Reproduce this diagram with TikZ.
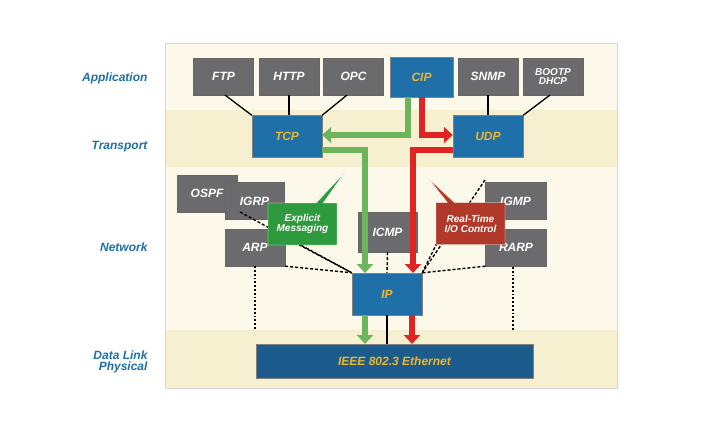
\documentclass[tikz,border=0pt]{standalone}
\usepackage{fontspec}
\setmainfont{Liberation Sans}
\usetikzlibrary{arrows.meta,shapes.callouts}
\definecolor{boxgrey}{HTML}{6B6B6E}
\definecolor{boxblue}{HTML}{1F70A8}
\definecolor{ethblue}{HTML}{1B5C8C}
\definecolor{txtgold}{HTML}{F2B526}
\definecolor{panel}{HTML}{FCF9EA}
\definecolor{band}{HTML}{F6F0D0}
\definecolor{layerblue}{HTML}{1E6FAA}
\definecolor{msggreen}{HTML}{2E9A3E}
\definecolor{iored}{HTML}{B0392A}
\definecolor{arrgreen}{HTML}{6DB55A}
\definecolor{arrred}{HTML}{E02424}
\tikzset{
  proto/.style={draw=black!60,fill=boxgrey,text=white,minimum width=60pt,minimum height=37pt,
    font=\large\bfseries\itshape,inner sep=1pt,align=center},
  core/.style={draw=black!50,fill=boxblue,text=txtgold,minimum width=70pt,minimum height=42pt,
    font=\large\bfseries\itshape},
  layer/.style={anchor=east,text=layerblue,font=\large\bfseries\itshape,align=right},
  flow/.style={line width=6pt,-{Triangle[length=9pt,width=16pt]}},
  netlink/.style={densely dashed,line width=1.4pt},
  note/.style={rectangle callout,draw=white,text=white,font=\bfseries\itshape,align=center,
    minimum width=69pt,minimum height=42pt,inner sep=1pt}
}
\begin{document}
\begin{tikzpicture}[x=1pt,y=-1pt]
\useasboundingbox (0,0) rectangle (713,421);
\fill[white] (0,0) rectangle (713,421);
% background bands
\fill[panel] (165,43) rectangle (617,388);
\fill[band] (165,110) rectangle (617,167);
\fill[band] (165,330) rectangle (617,388);
\draw[black!15] (165,43) rectangle (617,388);
% layers
\node[layer] at (151,78) {Application};
\node[layer] at (151,147) {Transport};
\node[layer] at (151,247) {Network};
\node[layer] at (151,362) {Data Link\\[-3pt]Physical};
% application
\node[proto] (ftp) at (223.5,76.5) {FTP};
\node[proto] (http) at (289,76.5) {HTTP};
\node[proto] (opc) at (353.5,76.5) {OPC};
\node[core,minimum width=63pt,minimum height=40pt] (cip) at (421.5,77) {CIP};
\node[proto] (snmp) at (488,76.5) {SNMP};
\node[proto,font=\bfseries\itshape] (boot) at (553,76.5) {BOOTP\\[-3pt]DHCP};
% transport
\node[core] (tcp) at (287,136.5) {TCP};
\node[core] (udp) at (488,136.5) {UDP};
% network
\node[proto] (ospf) at (207,193.5) {OSPF};
\node[proto,minimum width=59pt] (igrp) at (254.5,201) {IGRP};
\node[proto] (arp) at (255,247.5) {ARP};
\node[proto,minimum width=59pt,minimum height=40pt] (icmp) at (387.5,232) {ICMP};
\node[proto,minimum width=61pt] (igmp) at (515.5,201) {IGMP};
\node[proto,minimum width=61pt] (rarp) at (516,247.5) {RARP};
\node[core] (ip) at (387,294) {IP};
% data link
\node[core,fill=ethblue,minimum width=277pt,minimum height=34pt] (eth) at (394.5,361) {IEEE 802.3 Ethernet};
% links
\draw[line width=1.3pt] (225,95) -- (tcp.north west);
\draw[line width=1.3pt] (http.south) -- (289,115);
\draw[line width=1.3pt] (347,95) -- (tcp.north east);
\draw[line width=1.3pt] (snmp.south) -- (488,115);
\draw[line width=1.3pt] (550,95) -- (udp.north east);
% dashed to IP
\coordinate (ipl) at (ip.north west);
\coordinate (ipr) at (ip.north east);
\draw[netlink] (240,212) -- (ipl);
\draw[netlink] (290,240) -- (ipl);
\draw[netlink] (arp.south east) -- (ipl);
\draw[netlink] (icmp.south) -- (ip.north);
\draw[netlink] (rarp.south west) -- (ipr);
\draw[netlink] (437,243) -- (ipr);
\draw[netlink] (485,180) -- (ipr);
\draw[line width=1.8pt,dotted] (arp.south) -- (255,330);
\draw[line width=1.8pt,dotted] (513,267) -- (513,330);
\draw[line width=1.3pt] (ip.south) -- (ip.south |- eth.north);
% callouts
\coordinate (gtip) at (345,172);
\coordinate (rtip) at (428,178);
\node[note,fill=msggreen,callout absolute pointer={(gtip)}] (msg) at (302.5,224) {Explicit\\[-2pt]Messaging};
\node[note,fill=iored,callout absolute pointer={(rtip)}] (rtio) at (470.5,223.5) {Real-Time\\[-2pt]I/O Control};
% flows
\draw[flow,arrgreen] (408,97) -- (408,135) -- (tcp.east |- 0,135);
\draw[flow,arrgreen] (322,150) -- (365,150) -- (365,273);
\draw[flow,arrred] (422,97) -- (422,135) -- (udp.west |- 0,135);
\draw[flow,arrred] (453,150) -- (413,150) -- (413,273);
\draw[flow,arrgreen] (365,315) -- (365,344);
\draw[flow,arrred] (412,315) -- (412,344);
\end{tikzpicture}
\end{document}
